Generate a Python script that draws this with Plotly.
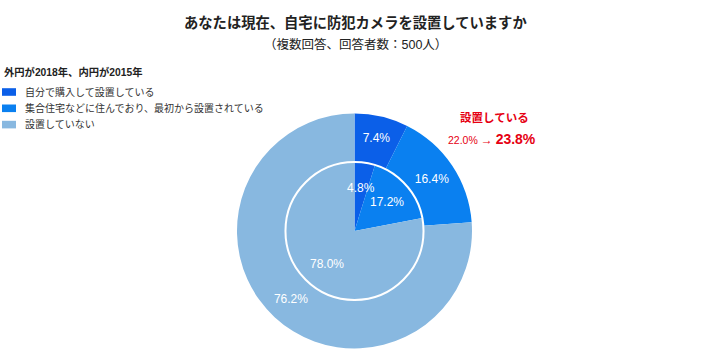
import math
import plotly.graph_objects as go

# ---- data ----
categories = ["自分で購入して設置している", "集合住宅などに住んでおり、最初から設置されている", "設置していない"]
outer_2018 = [7.4, 16.4, 76.2]
inner_2015 = [4.8, 17.2, 78.0]
colors = ["#0b5fe8", "#0a80f0", "#88b8e0"]
title_text = "あなたは現在、自宅に防犯カメラを設置していますか"
subtitle_text = "（複数回答、回答者数：500人）"
legend_title = "外円が2018年、内円が2015年"
installed_label = "設置している"
installed_2015 = 22.0
installed_2018 = 23.8

# body margin is removed by post_script so the figure sits at (0,0)
OFF = 0
FW, FH = 710, 364
cx, cy = 354.5, 231.0          # reference pixel coordinates
R_out, R_in = 117.5, 69.0

FONT = "Liberation Sans, Noto Sans CJK JP, sans-serif"

def X(px):
    return (px - OFF) / FW

def Y(py):
    return 1 - (py - OFF) / FH

def dom(r):
    return dict(x=[X(cx - r), X(cx + r)], y=[Y(cy + r), Y(cy - r)])

fig = go.Figure()
fig.add_trace(go.Pie(
    labels=categories, values=outer_2018, sort=False, direction="clockwise", rotation=0,
    hole=R_in / R_out, domain=dom(R_out), marker=dict(colors=colors, line=dict(width=0)),
    texttemplate="%{value:.1f}%", textposition="inside", insidetextorientation="horizontal",
    textfont=dict(color="white", size=12, family=FONT), showlegend=False, hoverinfo="skip",
))
fig.add_trace(go.Pie(
    labels=categories, values=inner_2015, sort=False, direction="clockwise", rotation=0,
    domain=dom(R_in), marker=dict(colors=colors, line=dict(width=0)),
    textinfo="none", showlegend=False, hoverinfo="skip",
))
fig.add_trace(go.Pie(
    labels=["ring"], values=[1], sort=False, domain=dom(R_in),
    marker=dict(colors=["rgba(0,0,0,0)"], line=dict(color="white", width=2)),
    textinfo="none", showlegend=False, hoverinfo="skip",
))

annotations = []
shapes = []

# inner labels, placed at each slice's bisector
total = sum(inner_2015)
cum = 0.0
for v in inner_2015:
    mid = (cum + v / 2) / total * 2 * math.pi
    cum += v
    rr = R_in * 0.63
    px = cx + rr * math.sin(mid)
    py = cy - rr * math.cos(mid)
    annotations.append(dict(x=X(px), y=Y(py), xref="paper", yref="paper",
                            xanchor="center", yanchor="middle",
                            text=f"{v:.1f}%", showarrow=False,
                            font=dict(color="white", size=12, family=FONT)))

# titles and callout
annotations += [
    dict(x=X(355), y=Y(22), text=f"<b>{title_text}</b>",
         font=dict(size=14.3, color="#222", family=FONT)),
    dict(x=X(355), y=Y(44), text=subtitle_text,
         font=dict(size=12.5, color="#222", family=FONT)),
    dict(x=X(494), y=Y(118), text=f"<b>{installed_label}</b>",
         font=dict(size=11.5, color="#e60012", family=FONT)),
    dict(x=X(492), y=Y(139),
         text=(f"{installed_2015:.1f}% <b><span style='font-size:12px'>→</span></b> "
               f"<b><span style='font-size:14px'>{installed_2018:.1f}%</span></b>"),
         font=dict(size=10.5, color="#e60012", family=FONT)),
]
for a in annotations[-4:]:
    a.update(xref="paper", yref="paper", xanchor="center", yanchor="middle", showarrow=False)

# legend (drawn manually for compact spacing)
annotations.append(dict(x=X(2), y=Y(72), xref="paper", yref="paper", xanchor="left", yanchor="middle",
                        showarrow=False, text=f"<b>{legend_title}</b>",
                        font=dict(size=10.3, color="#222", family=FONT)))
for i, (lab, col) in enumerate(zip(categories, colors)):
    yc = 92 + i * 16.3
    shapes.append(dict(type="rect", xref="paper", yref="paper",
                       x0=X(2), x1=X(16), y0=Y(yc + 3.8), y1=Y(yc - 3.8),
                       fillcolor=col, line=dict(width=0)))
    annotations.append(dict(x=X(23), y=Y(yc), xref="paper", yref="paper", xanchor="left",
                            yanchor="middle", showarrow=False, text=lab,
                            font=dict(size=10, color="#333", family=FONT)))

fig.update_layout(
    width=FW, height=FH, margin=dict(l=0, r=0, t=0, b=0),
    paper_bgcolor="white", plot_bgcolor="white",
    font=dict(family=FONT, color="#333"),
    annotations=annotations, shapes=shapes, showlegend=False,
)
fig.write_html("out.html", config={"displayModeBar": False},
               post_script="document.body.style.margin='0';document.body.style.overflow='hidden';")
